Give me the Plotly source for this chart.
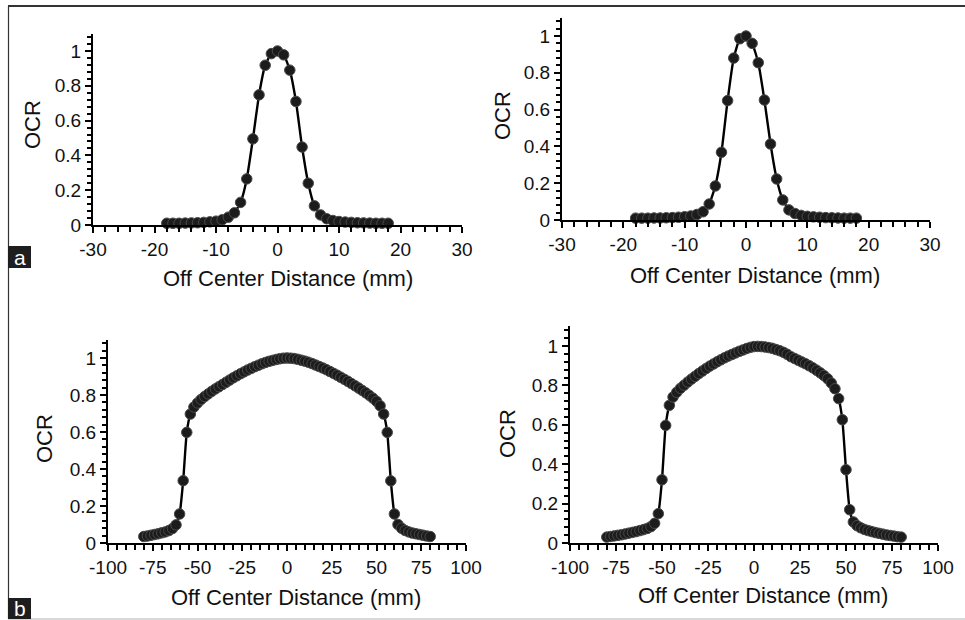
import plotly.graph_objects as go

# ---------------- data ----------------
x_top = list(range(-18, 19))
ocr_top_left = [0.010, 0.010, 0.010, 0.011, 0.012, 0.013, 0.015, 0.018, 0.022, 0.030,
                0.045, 0.070, 0.130, 0.265, 0.495, 0.748, 0.918, 0.985, 1.000, 0.978,
                0.890, 0.710, 0.448, 0.240, 0.110, 0.058, 0.036, 0.026, 0.020, 0.017,
                0.015, 0.013, 0.012, 0.011, 0.010, 0.010, 0.010]
ocr_top_right = [0.010, 0.010, 0.010, 0.011, 0.011, 0.012, 0.013, 0.015, 0.018, 0.022,
                 0.030, 0.045, 0.087, 0.185, 0.368, 0.649, 0.880, 0.985, 1.000, 0.960,
                 0.855, 0.652, 0.413, 0.223, 0.109, 0.055, 0.035, 0.025, 0.020, 0.017,
                 0.015, 0.013, 0.012, 0.011, 0.010, 0.010, 0.010]

x_bottom = list(range(-80, 81, 2))
ocr_bottom_left = [0.035, 0.038, 0.042, 0.046, 0.050, 0.055, 0.060, 0.067, 0.078, 0.098,
                   0.157, 0.337, 0.598, 0.697, 0.735, 0.757, 0.776, 0.792, 0.806, 0.820,
                   0.833, 0.845, 0.857, 0.869, 0.881, 0.893, 0.904, 0.915, 0.925, 0.935,
                   0.944, 0.953, 0.961, 0.969, 0.976, 0.982, 0.987, 0.992, 0.996, 0.999,
                   1.000, 0.999, 0.997, 0.993, 0.988, 0.983, 0.977, 0.970, 0.962, 0.954,
                   0.946, 0.937, 0.927, 0.917, 0.907, 0.896, 0.885, 0.874, 0.862, 0.850,
                   0.838, 0.825, 0.812, 0.798, 0.783, 0.766, 0.742, 0.697, 0.598, 0.336,
                   0.157, 0.100, 0.080, 0.068, 0.060, 0.054, 0.050, 0.046, 0.042, 0.038,
                   0.035]
ocr_bottom_right = [0.030, 0.033, 0.036, 0.039, 0.042, 0.046, 0.050, 0.054, 0.058, 0.063,
                    0.068, 0.074, 0.083, 0.100, 0.149, 0.321, 0.597, 0.699, 0.741, 0.765,
                    0.785, 0.801, 0.817, 0.832, 0.846, 0.860, 0.873, 0.886, 0.898, 0.909,
                    0.920, 0.930, 0.940, 0.949, 0.957, 0.965, 0.973, 0.980, 0.987, 0.993,
                    0.997, 0.998, 0.997, 0.995, 0.992, 0.988, 0.982, 0.976, 0.968, 0.958,
                    0.946, 0.937, 0.928, 0.919, 0.910, 0.900, 0.889, 0.877, 0.864, 0.850,
                    0.834, 0.812, 0.783, 0.733, 0.626, 0.372, 0.169, 0.107, 0.088, 0.077,
                    0.069, 0.063, 0.058, 0.053, 0.049, 0.045, 0.041, 0.038, 0.035, 0.032,
                    0.030]

# tick labels (hyphen-minus as in the original)
xticks_top = [-30, -20, -10, 0, 10, 20, 30]
xticklabels_top = ["-30", "-20", "-10", "0", "10", "20", "30"]
xticks_bottom = [-100, -75, -50, -25, 0, 25, 50, 75, 100]
xticklabels_bottom = ["-100", "-75", "-50", "-25", "0", "25", "50", "75", "100"]
yticks = [0, 0.2, 0.4, 0.6, 0.8, 1.0]
yticklabels = ["0", "0.2", "0.4", "0.6", "0.8", "1"]

x_title = "Off Center Distance (mm)"
y_title = "OCR"

W, H = 965, 620
FONT = "Liberation Sans, Arial, sans-serif"

# pixel boxes: (left, right, y_zero_px, px_per_unit)
panels = [
    dict(x=x_top, y=ocr_top_left, box=(93, 462, 225, 174), xr=[-30, 30],
         tv=xticks_top, tt=xticklabels_top, xm=2),
    dict(x=x_top, y=ocr_top_right, box=(562, 930, 220, 184), xr=[-30, 30],
         tv=xticks_top, tt=xticklabels_top, xm=2),
    dict(x=x_bottom, y=ocr_bottom_left, box=(108, 466, 543, 185), xr=[-100, 100],
         tv=xticks_bottom, tt=xticklabels_bottom, xm=5),
    dict(x=x_bottom, y=ocr_bottom_right, box=(570, 938, 543, 197), xr=[-100, 100],
         tv=xticks_bottom, tt=xticklabels_bottom, xm=5),
]
title_pos = [
    ((288, 278), (32, 125)),
    ((755, 275), (502, 116)),
    ((296, 597), (45, 439)),
    ((763, 595), (507, 433)),
]

fig = go.Figure()
layout = dict(
    template="none",
    width=W, height=H, margin=dict(l=0, r=0, t=0, b=0, pad=0, autoexpand=False),
    paper_bgcolor="white", plot_bgcolor="white", showlegend=False,
    font=dict(family=FONT, color="#111"),
)
annotations = []
shapes = []

for i, p in enumerate(panels, start=1):
    sx = "" if i == 1 else str(i)
    left, right, y0, ppu = p["box"]
    ytop = y0 - 1.1 * ppu
    fig.add_trace(go.Scatter(
        x=p["x"], y=p["y"], xaxis="x" + sx, yaxis="y" + sx,
        mode="lines+markers", cliponaxis=False,
        line=dict(color="black", width=2.4, shape="spline", smoothing=0.5),
        marker=dict(symbol="circle", size=10.5, color="#1c1c1c",
                    line=dict(color="#4a4a4a", width=1)),
    ))
    layout["xaxis" + sx] = dict(
        domain=[left / W, right / W], anchor="y" + sx, range=p["xr"],
        tickmode="array", tickvals=p["tv"], ticktext=p["tt"],
        showgrid=False, zeroline=False, automargin=False,
        showline=True, linecolor="black", linewidth=2,
        ticks="outside", ticklen=6, tickwidth=2, tickcolor="black",
        tickfont=dict(size=19, family=FONT, color="#111"),
        minor=dict(dtick=p["xm"], tick0=0, ticks="outside", ticklen=5, tickwidth=2,
                   tickcolor="black", showgrid=False),
        fixedrange=True,
    )
    layout["yaxis" + sx] = dict(
        domain=[1 - y0 / H, 1 - ytop / H], anchor="x" + sx, range=[0, 1.1],
        tickmode="array", tickvals=yticks, ticktext=yticklabels,
        showgrid=False, zeroline=False, automargin=False,
        showline=True, linecolor="black", linewidth=2,
        ticks="outside", ticklen=6, tickwidth=2, tickcolor="black",
        tickfont=dict(size=19, family=FONT, color="#111"),
        minor=dict(dtick=0.04, tick0=0, ticks="outside", ticklen=4, tickwidth=2,
                   tickcolor="black", showgrid=False),
        fixedrange=True,
    )
    (xtx, xty), (ytx, yty) = title_pos[i - 1]
    annotations.append(dict(text=x_title, x=xtx / W, y=1 - xty / H, xref="paper", yref="paper",
                            showarrow=False, font=dict(size=22, family=FONT, color="#111"),
                            xanchor="center", yanchor="middle"))
    annotations.append(dict(text=y_title, x=ytx / W, y=1 - yty / H, xref="paper", yref="paper",
                            showarrow=False, textangle=-90, font=dict(size=22, family=FONT, color="#111"),
                            xanchor="center", yanchor="middle"))

# frame lines
shapes.append(dict(type="line", xref="paper", yref="paper", x0=8 / W, x1=1, y0=1 - 6 / H, y1=1 - 6 / H,
                   line=dict(color="#333", width=2)))
shapes.append(dict(type="line", xref="paper", yref="paper", x0=8.5 / W, x1=8.5 / W, y0=1 - 6 / H, y1=1 - 619 / H,
                   line=dict(color="#333", width=1.2)))
shapes.append(dict(type="line", xref="paper", yref="paper", x0=8 / W, x1=1, y0=1 - 619 / H, y1=1 - 619 / H,
                   line=dict(color="#ccc", width=1.5)))

# panel labels
for lab, (bx0, by0, bx1, by1) in [("a", (8, 246, 31, 268)), ("b", (8, 598, 31, 619))]:
    shapes.append(dict(type="rect", xref="paper", yref="paper", x0=bx0 / W, x1=bx1 / W,
                       y0=1 - by1 / H, y1=1 - by0 / H, fillcolor="#1e1e1e", line=dict(width=0)))
    annotations.append(dict(text=lab, x=(bx0 + bx1) / 2 / W, y=1 - (by0 + by1) / 2 / H,
                            xref="paper", yref="paper", showarrow=False,
                            font=dict(size=21, family=FONT, color="white"),
                            xanchor="center", yanchor="middle"))

layout["annotations"] = annotations
layout["shapes"] = shapes
fig.update_layout(**layout)
fig.write_html(
    "out.html",
    config={"displayModeBar": False, "staticPlot": True},
    post_script="document.body.style.margin='0';document.body.style.padding='0';"
                "document.documentElement.style.overflow='hidden';",
)
